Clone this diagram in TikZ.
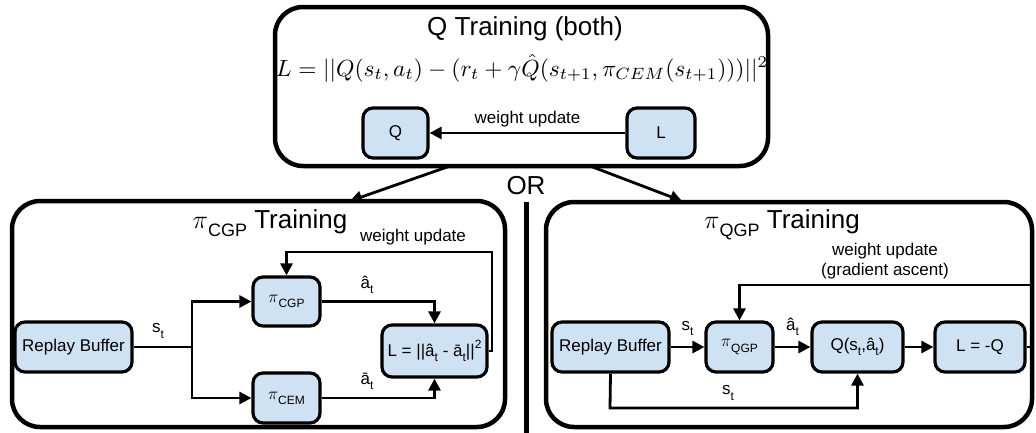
\documentclass[tikz,border=0pt]{standalone}
\usepackage{fix-cm}
\usepackage{fontspec}
\setmainfont{Liberation Sans}
\usepackage{graphicx}
\usetikzlibrary{arrows.meta}
\definecolor{nodeblue}{RGB}{207,226,243}
\newcommand{\lsub}[1]{\raisebox{-0.3em}{\fontsize{12}{13}\selectfont #1}}
\newcommand{\lsup}[1]{\raisebox{0.45em}{\fontsize{12}{13}\selectfont #1}}
\newcommand{\tsub}[1]{\raisebox{-8pt}{\fontsize{18}{20}\selectfont #1}}
\tikzset{
  blk/.style={draw, line width=3.2pt, fill=nodeblue, rounded corners=10pt,
    minimum height=50pt, inner sep=0pt, font=\fontsize{17}{20}\selectfont},
  panel/.style={draw, line width=4.5pt, rounded corners=28pt, inner sep=0pt},
  arr/.style={line width=2.8pt, -{Triangle[length=12pt,width=12pt]}},
  conn/.style={line width=2.8pt},
  lbl/.style={font=\fontsize{17}{20}\selectfont, inner sep=0pt},
  ttl/.style={font=\fontsize{26}{30}\selectfont, inner sep=0pt},
}
\begin{document}
\begin{tikzpicture}[x=1pt,y=-1pt]
\useasboundingbox (0,0) rectangle (1036,432);

% panels
\node[panel, minimum width=493pt, minimum height=159pt] (top) at (521.5,86.5) {};
\node[panel, minimum width=493pt, minimum height=226pt] (lp) at (258.5,314) {};
\node[panel, minimum width=486pt, minimum height=225pt] (rp) at (789,314.5) {};

% top panel
\node[ttl, anchor=base] (ttop) at (525,35) {Q Training (both)};
\node[inner sep=0pt] (eq) at (522,68) {\resizebox{492pt}{!}{$L = ||Q(s_t,a_t) - (r_t + \gamma \hat{Q}(s_{t+1},\pi_{CEM}(s_{t+1})))||^2$}};
\node[blk, minimum width=65pt] (q) at (395.5,133) {Q};
\node[blk, minimum width=68pt] (l) at (661,133) {L};
\draw[arr] (l) -- node[lbl, above=5pt] (wu0) {weight update} (q);

% OR
\node[ttl] (or) at (526,186) {OR};
\coordinate (vs) at (526.5,202);
\coordinate (ve) at (526.5,434);
\draw[line width=5pt] (vs) -- (ve);

\coordinate (a1s) at (450,166);
\coordinate (a1e) at (350,201);
\coordinate (a2s) at (590,166);
\coordinate (a2e) at (682,201);
\draw[arr] (a1s) -- (a1e);
\draw[arr] (a2s) -- (a2e);

% left panel
\node[ttl, anchor=base] (tl) at (270,228) {$\pi$\tsub{CGP} Training};
\node[blk, minimum width=117pt] (rb1) at (73.5,347) {Replay Buffer};
\node[blk, minimum width=67pt, minimum height=49pt] (picgp) at (286.5,301.5) {$\pi$\lsub{CGP}};
\node[blk, minimum width=67pt] (picem) at (286.5,398) {$\pi$\lsub{CEM}};
\node[blk, minimum width=105pt, minimum height=52pt] (l1) at (434.5,351) {L = ||â\lsub{t} - ā\lsub{t}||\lsup{2}};
\coordinate (j1) at (192,347);
\draw[conn] (rb1.east) -- (j1);
\node[lbl] (st1) at (158,331) {s\lsub{t}};
\draw[arr] (j1) |- (picgp.west);
\draw[arr] (j1) |- (picem.west);
\draw[arr] (picgp.east) -| (l1.north);
\draw[arr] (picem.east) -| (l1.south);
\node[lbl] (ah1) at (367,285) {â\lsub{t}};
\node[lbl] (ab1) at (367,381) {ā\lsub{t}};
\coordinate (fb1) at (492,252);
\draw[arr] (l1.east) -| (fb1) -| (picgp.north);
\node[lbl] (wu1) at (413,237) {weight update};

% right panel
\node[ttl, anchor=base] (tr) at (782,228) {$\pi$\tsub{QGP} Training};
\node[blk, minimum width=117pt] (rb2) at (610.5,347) {Replay Buffer};
\node[blk, minimum width=67pt] (piqgp) at (739.5,347) {$\pi$\lsub{QGP}};
\node[blk, minimum width=91pt] (qn) at (857.5,347) {Q(s\lsub{t},â\lsub{t})};
\node[blk, minimum width=90pt] (l2) at (980,347) {L = -Q};
\draw[arr] (rb2) -- node[lbl, above=10pt] (st2) {s\lsub{t}} (piqgp);
\draw[arr] (piqgp) -- node[lbl, above=10pt] (ah2) {â\lsub{t}} (qn);
\draw[arr] (qn) -- (l2);
\coordinate (fb2) at (1031,285);
\draw[arr] (l2.east) -| (fb2) -| (piqgp.north);
\node[lbl, align=center] (wu2) at (885,261) {weight update\\(gradient ascent)};
\coordinate (bt) at (610,408);
\draw[arr] (rb2.south) -- (bt) -| (qn.south);
\node[lbl] (st3) at (728,393) {s\lsub{t}};
\end{tikzpicture}
\end{document}
